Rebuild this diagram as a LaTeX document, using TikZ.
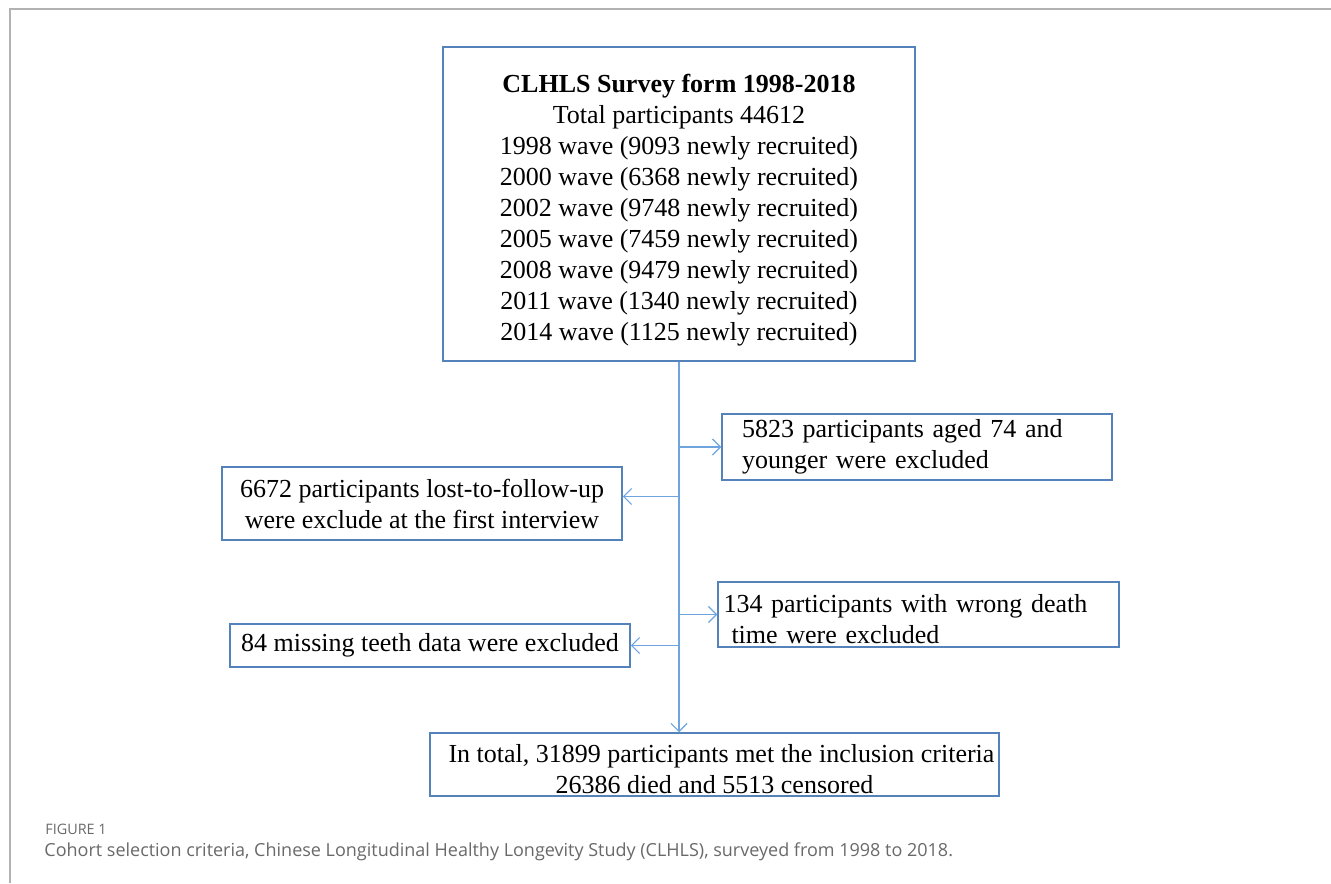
\documentclass[tikz,border=0pt]{standalone}
\usepackage{fontspec}
\setmainfont{Liberation Serif}
\newfontfamily\capfont{Open Sans}
\usetikzlibrary{arrows.meta,calc}

\definecolor{boxblue}{RGB}{84,130,186}
\definecolor{flowblue}{RGB}{110,165,222}
\definecolor{framegray}{RGB}{178,178,178}
\definecolor{capgray}{RGB}{105,105,105}

\begin{document}
\begin{tikzpicture}[x=0.5pt, y=-0.5pt, box/.style={rectangle, draw=boxblue, line width=0.75pt,
	inner sep=0pt, font=\fontsize{13}{15.5}\selectfont}, flow/.style={draw=flowblue, line width=0.6pt},
	>={Straight Barb[length=4pt,width=8pt]}]
\useasboundingbox (0,0) rectangle (1331,883);

% frame
\draw[framegray, line width=0.8pt] (10,883) -- (10,9) -- (1331,9);

\node[box, minimum width=236pt, minimum height=157pt, align=center] at (679,204) (survey)
	{\rule{0pt}{15pt}\textbf{CLHLS Survey form 1998-2018}\\Total participants 44612\\1998 wave (9093 newly recruited)\\
	2000 wave (6368 newly recruited)\\2002 wave (9748 newly recruited)\\2005 wave (7459 newly recruited)\\
	2008 wave (9479 newly recruited)\\2011 wave (1340 newly recruited)\\2014 wave (1125 newly recruited)};
\node[box, minimum height=33pt, text width=175pt, inner xsep=10pt, align=left] at (917,447) (young)
	{5823 participants aged 74 and\\younger were excluded};
\node[box, minimum width=200pt, minimum height=36.5pt, align=center] at (422,503.5) (lost)
	{6672 participants lost-to-follow-up\\were exclude at the first interview};
\node[box, minimum height=32.5pt, text width=195pt, inner xsep=2.75pt, align=left] at (918.5,614.5) (death)
	{\rule{0pt}{14pt}134 participants with wrong death\\\hspace*{4pt}time were excluded};
\node[box, minimum width=200pt, minimum height=21.5pt, align=center] at (430,645.5) (teeth)
	{84 missing teeth data were excluded};
\node[box, minimum width=284.5pt, minimum height=31.5pt, align=center] at (714.5,764.5) (total)
	{\rule{0pt}{13.5pt}\hspace*{7pt}In total, 31899 participants met the inclusion criteria\\26386 died and 5513 censored};

\draw[flow,->] (survey.south) -- (survey.south |- total.north);
\draw[flow,->] (survey.south |- young.west) -- (young.west);
\draw[flow,->] ($(survey.south |- lost.east)+(0,-7)$) -- ($(lost.east)+(0,-7)$);
\draw[flow,->] (survey.south |- death.west) -- (death.west);
\draw[flow,->] (survey.south |- teeth.east) -- (teeth.east);

\node[anchor=base west, inner sep=0pt, font=\capfont\fontsize{7.2}{8}\selectfont, text=capgray] at (45,834) (fig) {FIGURE 1};
\node[anchor=base west, inner sep=0pt, font=\capfont\fontsize{9}{11}\selectfont, text=capgray] at (44,856) (cap)
	{Cohort selection criteria, Chinese Longitudinal Healthy Longevity Study (CLHLS), surveyed from 1998 to 2018.};
\end{tikzpicture}
\end{document}
